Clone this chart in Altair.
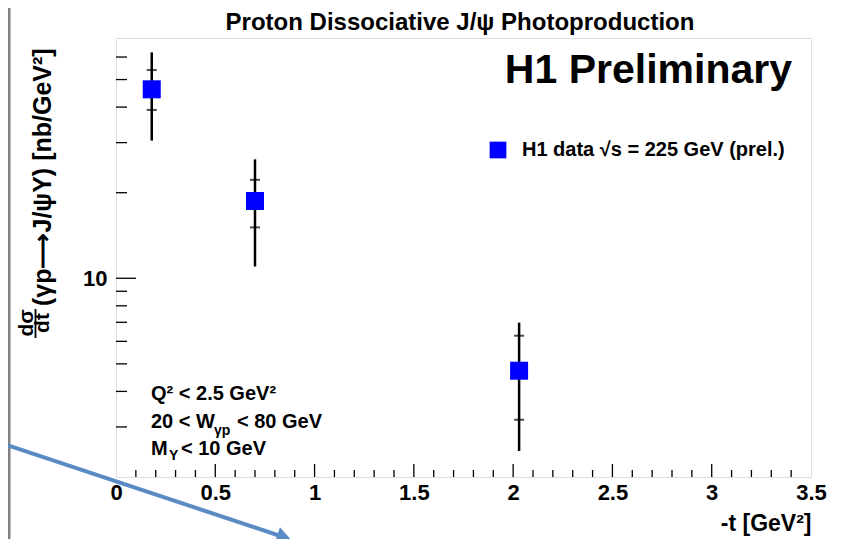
import altair as alt
import pandas as pd

# ---------------- data ----------------
t_vals = [0.18, 0.70, 2.03]            # -t [GeV^2]
xsec = [46.2, 18.7, 4.73]              # dsigma/dt [nb/GeV^2]
stat_lo = [39.1, 15.1, 3.18]
stat_hi = [54.0, 22.2, 6.28]
tot_lo = [30.5, 11.0, 2.47]
tot_hi = [62.3, 26.2, 6.98]
series_name = "H1 data √s = 225 GeV (prel.)"

x_label_vals = [0, 0.5, 1, 1.5, 2, 2.5, 3, 3.5]
x_major_ticks = [0.5, 1.0, 1.5, 2.0, 2.5, 3.0]
x_minor_ticks = [0.1, 0.2, 0.3, 0.4, 0.6, 0.7, 0.8, 0.9, 1.1, 1.2, 1.3, 1.4,
                 1.6, 1.7, 1.8, 1.9, 2.1, 2.2, 2.3, 2.4, 2.6, 2.7, 2.8, 2.9,
                 3.1, 3.2, 3.3, 3.4]
y_label_vals = [10]
y_major_ticks = [10]
y_minor_ticks = [3, 4, 5, 6, 7, 8, 9, 20, 30, 40, 50, 60]

W, H = 695, 439
FONT = "Liberation Sans"

df = pd.DataFrame({
    "t": t_vals, "xs": xsec,
    "stat_lo": stat_lo, "stat_hi": stat_hi,
    "tot_lo": tot_lo, "tot_hi": tot_hi,
    "series": [series_name] * len(t_vals),
})

xscale = alt.Scale(domain=[0, 3.5], nice=False, zero=False)
yscale = alt.Scale(type="log", domain=[2, 70], nice=False)

xaxis = alt.Axis(values=x_label_vals, format="~g", ticks=False, domain=False, grid=False,
                 labelFont=FONT, labelFontSize=22, labelFontWeight="bold", labelColor="black",
                 labelPadding=5, labelFlush=False, labelOverlap=False,
                 titleFont=FONT, titleFontSize=23, titleFontWeight="bold", titleColor="black",
                 titleX=W, titleY=53, titleAlign="right", titleAnchor="end",
                 titleBaseline="alphabetic")
yaxis = alt.Axis(values=y_label_vals, format="d", ticks=False, domain=False, grid=False,
                 labelFont=FONT, labelFontSize=22, labelFontWeight="bold", labelColor="black",
                 labelPadding=9, labelFlush=False, labelOverlap=False)

XT = "-t [GeV²]"


def X(field):
    return alt.X(field, scale=xscale, axis=xaxis, title=XT)


def Y(field):
    return alt.Y(field, scale=yscale, axis=yaxis, title="")


base = alt.Chart(df)

err_total = base.mark_rule(color="black", strokeWidth=2.5).encode(
    x=X("t:Q"), y=Y("tot_lo:Q"), y2="tot_hi:Q")
stat_low = base.mark_tick(color="black", orient="horizontal", size=10, thickness=2).encode(
    x=X("t:Q"), y=Y("stat_lo:Q"))
stat_high = base.mark_tick(color="black", orient="horizontal", size=10, thickness=2).encode(
    x=X("t:Q"), y=Y("stat_hi:Q"))
points = base.mark_square(size=324, opacity=1, filled=True).encode(
    x=X("t:Q"), y=Y("xs:Q"),
    color=alt.Color("series:N",
                    scale=alt.Scale(domain=[series_name], range=["#0000ff"]),
                    legend=alt.Legend(title=None, orient="none", legendX=372, legendY=102,
                                      symbolType="square", symbolSize=280, symbolStrokeWidth=0,
                                      symbolOpacity=1, padding=0,
                                      labelFont=FONT, labelFontSize=20, labelFontWeight="bold",
                                      labelColor="black", labelOffset=14, labelLimit=0)))

# inward pointing ticks (ROOT style)
xmaj = alt.Chart(pd.DataFrame({"tick": x_major_ticks})).mark_rule(color="black", strokeWidth=1.3).encode(
    x=X("tick:Q"), y=alt.value(H), y2=alt.value(H - 13))
xmin = alt.Chart(pd.DataFrame({"tick": x_minor_ticks})).mark_rule(color="black", strokeWidth=1.3).encode(
    x=X("tick:Q"), y=alt.value(H), y2=alt.value(H - 7))
ymaj = alt.Chart(pd.DataFrame({"tick": y_major_ticks})).mark_rule(color="black", strokeWidth=1.3).encode(
    y=Y("tick:Q"), x=alt.value(0), x2=alt.value(20))
ymin = alt.Chart(pd.DataFrame({"tick": y_minor_ticks})).mark_rule(color="black", strokeWidth=1.3).encode(
    y=Y("tick:Q"), x=alt.value(0), x2=alt.value(11))


def label(text, x, y, size, align="left", baseline="alphabetic", angle=0):
    return alt.Chart(pd.DataFrame({"s": [text]})).mark_text(
        font=FONT, fontSize=size, fontWeight="bold", color="black",
        align=align, baseline=baseline, angle=angle).encode(
        text="s:N", x=alt.value(x), y=alt.value(y))


texts = [
    label("Proton Dissociative J/ψ Photoproduction", 344, -8, 24, align="center"),
    label("H1 Preliminary", 676, 45, 41, align="right"),
    label("Q² < 2.5 GeV²", 35, 362, 20),
    label("20 < W", 35, 390, 20),
    label("γp", 98, 397, 14),
    label("< 80 GeV", 121, 390, 20),
    label("M", 35, 417, 20),
    label("Y", 53, 422, 14),
    label("< 10 GeV", 65, 417, 20),
    # y-axis title: d sigma / dt (gamma p -> J/psi Y) [nb/GeV^2]
    label("(γp⟶J/ψY) [nb/GeV²]", -65, 268, 25, angle=270),
    label("dσ", -83, 285, 21, align="center", angle=270),
    label("dt", -67, 285, 21, align="center", angle=270),
]

one = pd.DataFrame({"k": [0]})
frac_bar = alt.Chart(one).mark_rule(color="black", strokeWidth=1.8).encode(
    x=alt.value(-80.5), y=alt.value(271), y2=alt.value(300))

# slide decorations visible in the reference
left_border = alt.Chart(one).mark_rule(color="#808080", strokeWidth=3).encode(
    x=alt.value(-107), y=alt.value(-30), y2=alt.value(501))
arrow = alt.Chart(one).mark_rule(color="#5b8bc5", strokeWidth=4).encode(
    x=alt.value(-108), y=alt.value(407.4), x2=alt.value(166), y2=alt.value(498.5))
arrow_head = alt.Chart(one).mark_point(shape="triangle-right", filled=True, opacity=1,
                                       color="#5b8bc5", size=260, angle=18.5).encode(
    x=alt.value(168), y=alt.value(499))

chart = alt.layer(
    xmin, xmaj, ymin, ymaj,
    err_total, stat_low, stat_high, points,
    *texts, frac_bar, left_border, arrow, arrow_head,
).properties(
    width=W, height=H,
    padding={"left": 108, "top": 30, "right": 24, "bottom": 62},
    autosize=alt.AutoSizeParams(type="none"),
).configure_view(
    stroke="black", strokeWidth=1.5
).configure(background="white")

chart.save("out.html", embed_options={"renderer": "svg", "actions": False})
